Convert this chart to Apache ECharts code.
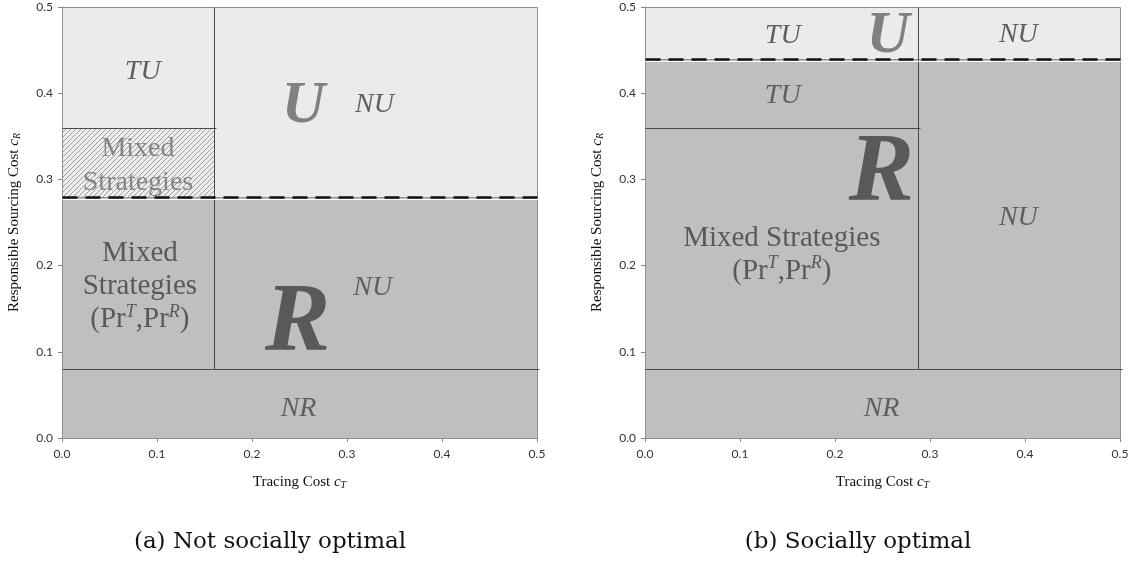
<!DOCTYPE html>
<html><head><meta charset="utf-8">
<script src="https://cdn.jsdelivr.net/npm/echarts@6/dist/echarts.min.js"></script>
<style>html,body{margin:0;padding:0;background:#fff}#c{width:1136px;height:565px}</style>
</head><body><div id="c"></div>
<script>
// axis ticks
const axisTicks = [0, 0.1, 0.2, 0.3, 0.4, 0.5];
// regions: [x0, y0, x1, y1, fill kind]
const regionsA = [
  [0, 0, 0.5, 0.08, 'dark'],
  [0, 0.08, 0.16, 0.28, 'dark'],
  [0.16, 0.08, 0.5, 0.28, 'dark'],
  [0, 0.28, 0.16, 0.36, 'hatch'],
  [0, 0.36, 0.16, 0.5, 'light'],
  [0.16, 0.28, 0.5, 0.5, 'light']
];
const regionsB = [
  [0, 0, 0.5, 0.08, 'dark'],
  [0, 0.08, 0.2875, 0.36, 'dark'],
  [0, 0.36, 0.2875, 0.44, 'dark'],
  [0.2875, 0.08, 0.5, 0.44, 'dark'],
  [0, 0.44, 0.2875, 0.5, 'light'],
  [0.2875, 0.44, 0.5, 0.5, 'light']
];
// boundaries: [x0, y0, x1, y1, kind]
const boundsA = [
  [0, 0.08, 0.5, 0.08, 'solid'],
  [0.16, 0.08, 0.16, 0.5, 'solid'],
  [0, 0.36, 0.16, 0.36, 'solid'],
  [0, 0.28, 0.5, 0.28, 'dashed']
];
const boundsB = [
  [0, 0.08, 0.5, 0.08, 'solid'],
  [0.2875, 0.08, 0.2875, 0.5, 'solid'],
  [0, 0.36, 0.2875, 0.36, 'solid'],
  [0, 0.44, 0.5, 0.44, 'dashed']
];
// labels: [x, y, text, kind]
const labelsA = [
  [0.085, 0.425, 'TU', 'it'],
  [0.080, 0.316, 'Mixed\nStrategies', 'mixHatch'],
  [0.254, 0.385, 'U', 'U'],
  [0.329, 0.387, 'NU', 'it'],
  [0.082, 0.176, 'Mixed\nStrategies\n{n|(Pr}{sup|T}{n|,Pr}{sup|R}{n|)}', 'mix'],
  [0.248, 0.131, 'R', 'R'],
  [0.327, 0.175, 'NU', 'it'],
  [0.249, 0.034, 'NR', 'it']
];
const labelsB = [
  [0.145, 0.467, 'TU', 'it'],
  [0.256, 0.466, 'U', 'U'],
  [0.393, 0.468, 'NU', 'it'],
  [0.145, 0.397, 'TU', 'it'],
  [0.249, 0.305, 'R', 'R'],
  [0.144, 0.213, 'Mixed Strategies\n{n|(Pr}{sup|T}{n|,Pr}{sup|R}{n|)}', 'mix'],
  [0.393, 0.256, 'NU', 'it'],
  [0.249, 0.034, 'NR', 'it']
];
const captions = ['(a) Not socially optimal', '(b) Socially optimal'];

const SERIF = 'Liberation Serif';
const SANS = 'Lato';
function hatchCanvas() {
  const c = document.createElement('canvas');
  c.width = c.height = 5;
  const g = c.getContext('2d');
  g.fillStyle = '#ededed'; g.fillRect(0, 0, 5, 5);
  g.strokeStyle = '#9c9c9c'; g.lineWidth = 1;
  g.beginPath();
  g.moveTo(-1, 6); g.lineTo(6, -1);
  g.moveTo(-1, 1); g.lineTo(1, -1);
  g.moveTo(4, 6); g.lineTo(6, 4);
  g.stroke();
  return c;
}
const fills = { dark: '#bfbfbf', light: '#ebebeb', hatch: { image: hatchCanvas(), repeat: 'repeat' } };
const labelStyles = {
  it: { font: 'italic 28px Liberation Serif', fill: '#5f5f5f' },
  U: { font: 'italic bold 60px Liberation Serif', fill: '#808080' },
  R: { font: 'italic bold 98px Liberation Serif', fill: '#595959' },
  mixHatch: { font: '28px Liberation Serif', fill: '#858585', lineHeight: 34 },
  mix: { font: '29px Liberation Serif', fill: '#595959', lineHeight: 33,
    rich: {
      n: { fontFamily: SERIF, fontSize: 29, fill: '#595959', lineHeight: 33 },
      sup: { fontFamily: SERIF, fontStyle: 'italic', fontSize: 18, fill: '#595959', verticalAlign: 'top', lineHeight: 33 }
    } }
};

function rectSeries(data, idx) {
  return { type: 'custom', xAxisIndex: idx, yAxisIndex: idx, silent: true, clip: false, z: 1,
    data: data.map(r => [r[0], r[1], r[2], r[3]]),
    renderItem: (p, api) => {
      const r = data[p.dataIndex];
      const a = api.coord([r[0], r[3]]), b = api.coord([r[2], r[1]]);
      const x0 = Math.round(a[0]) + 0.5, y0 = Math.round(a[1]) + 0.5;
      const x1 = Math.round(b[0]) + 0.5, y1 = Math.round(b[1]) + 0.5;
      return { type: 'rect', shape: { x: x0, y: y0, width: x1 - x0, height: y1 - y0 },
        style: { fill: fills[r[4]], stroke: '#8f8f8f', lineWidth: 1 } };
    } };
}
function lineSeries(data, idx) {
  return { type: 'custom', xAxisIndex: idx, yAxisIndex: idx, silent: true, clip: false, z: 2,
    data: data.map(r => [r[0], r[1], r[2], r[3]]),
    renderItem: (p, api) => {
      const r = data[p.dataIndex];
      const a = api.coord([r[0], r[1]]), b = api.coord([r[2], r[3]]);
      const x0 = Math.round(a[0]) + 0.5, y0 = Math.round(a[1]) + 0.5;
      const x1 = Math.round(b[0]) + 0.5, y1 = Math.round(b[1]) + 0.5;
      if (r[4] === 'dashed') {
        return { type: 'group', children: [
          { type: 'line', shape: { x1: x0, y1: y0 + 2, x2: x1 + 3, y2: y1 + 2 }, style: { stroke: '#ffffff', lineWidth: 1 } },
          { type: 'line', shape: { x1: x0, y1: y0, x2: x1 + 3, y2: y1 }, style: { stroke: '#111111', lineWidth: 2.5, lineDash: [15, 8] } }
        ] };
      }
      return { type: 'line', shape: { x1: x0, y1: y0, x2: x1 + (y0 === y1 ? 2 : 0), y2: y1 },
        style: { stroke: '#4a4a4a', lineWidth: 1 } };
    } };
}
function textSeries(data, idx) {
  return { type: 'custom', xAxisIndex: idx, yAxisIndex: idx, silent: true, clip: false, z: 3,
    data: data.map(r => [r[0], r[1]]),
    renderItem: (p, api) => {
      const r = data[p.dataIndex];
      const c = api.coord([r[0], r[1]]);
      const st = labelStyles[r[3]];
      return { type: 'text', x: c[0], y: c[1],
        style: Object.assign({ text: r[2], align: 'center', verticalAlign: 'middle' }, st) };
    } };
}
const nameStyle = { fontFamily: SERIF, fontSize: 15, color: '#111',
  rich: { c: { fontFamily: SERIF, fontStyle: 'italic', fontSize: 15, color: '#111' },
          sub: { fontFamily: SERIF, fontStyle: 'italic', fontSize: 10, color: '#111', verticalAlign: 'bottom', padding: [6, 0, 0, 0] } } };
function xAxis(idx) {
  return { type: 'value', gridIndex: idx, min: 0, max: 0.5, interval: 0.1,
    axisLine: { show: true, lineStyle: { color: '#868686', width: 1 } },
    axisTick: { show: true, length: 4, lineStyle: { color: '#868686' } },
    splitLine: { show: false },
    axisLabel: { margin: 10, fontFamily: SANS, fontSize: 12, color: '#333',
      formatter: v => v.toFixed(1) },
    name: 'Tracing Cost {c|c}{sub|T}', nameLocation: 'middle', nameGap: 36,
    nameTextStyle: nameStyle
  };
}
function yAxis(idx) {
  return { type: 'value', gridIndex: idx, min: 0, max: 0.5, interval: 0.1,
    axisLine: { show: true, lineStyle: { color: '#868686', width: 1 } },
    axisTick: { show: true, length: 4, lineStyle: { color: '#868686' } },
    splitLine: { show: false },
    axisLabel: { margin: 9, fontFamily: SANS, fontSize: 12, color: '#333',
      formatter: v => v.toFixed(1) },
    name: 'Responsible Sourcing Cost {c|c}{sub|R}', nameLocation: 'middle', nameGap: 40,
    nameTextStyle: nameStyle
  };
}

const chart = echarts.init(document.getElementById('c'), null, { renderer: 'canvas' });
chart.setOption({
  animation: false,
  backgroundColor: '#ffffff',
  grid: [
    { left: 62, right: 599, top: 7, bottom: 127 },
    { left: 645, right: 16, top: 7, bottom: 127 }
  ],
  xAxis: [xAxis(0), xAxis(1)],
  yAxis: [yAxis(0), yAxis(1)],
  graphic: [
    { type: 'text', x: 270, y: 542, style: { text: captions[0], font: '23px DejaVu Serif', fill: '#111', align: 'center', verticalAlign: 'middle' } },
    { type: 'text', x: 858, y: 542, style: { text: captions[1], font: '23px DejaVu Serif', fill: '#111', align: 'center', verticalAlign: 'middle' } }
  ],
  series: [
    rectSeries(regionsA, 0), lineSeries(boundsA, 0), textSeries(labelsA, 0),
    rectSeries(regionsB, 1), lineSeries(boundsB, 1), textSeries(labelsB, 1)
  ]
});
</script>
</body></html>
